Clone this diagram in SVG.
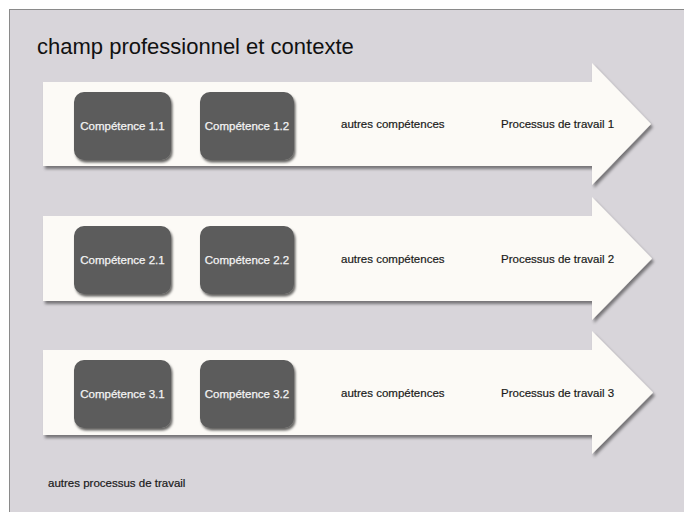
<svg xmlns="http://www.w3.org/2000/svg" width="684" height="512" viewBox="0 0 684 512">
<defs>
<filter id="sh" x="-10%" y="-20%" width="130%" height="150%">
<feDropShadow dx="2" dy="3" stdDeviation="1.8" flood-color="#000" flood-opacity="0.45"/>
</filter>
<filter id="shb" x="-10%" y="-20%" width="130%" height="150%">
<feDropShadow dx="1.5" dy="2.5" stdDeviation="1" flood-color="#000" flood-opacity="0.6"/>
</filter>
</defs>
<style>
.arrow{fill:#fcfaf6;filter:url(#sh)}
.box{fill:#5b5b5b;filter:url(#shb)}
.bt{font-family:"Liberation Sans",Arial,sans-serif;font-size:11.5px;fill:#f4f4f4;text-anchor:middle;stroke:#f4f4f4;stroke-width:0.25}
.t{font-family:"Liberation Sans",Arial,sans-serif;font-size:11.5px;fill:#1a1a1a;stroke:#1a1a1a;stroke-width:0.2}
.title{font-family:"Liberation Sans",Arial,sans-serif;font-size:22px;fill:#111}
</style>
<rect x="0" y="0" width="684" height="512" fill="#ffffff"/>
<rect x="9.5" y="9.5" width="690" height="520" fill="#d8d5da" stroke="#8a8a8a" stroke-width="1"/>
<text class="title" x="37" y="54">champ professionnel et contexte</text>

<g id="row1">
<path class="arrow" d="M43,82 H592 V63 L651,124 L592,185 V166 H43 Z"/>
<text class="t" x="341" y="128">autres compétences</text>
<text class="t" x="501" y="128">Processus de travail 1</text>
</g>
<g id="c11"><rect class="box" x="74" y="92" width="97" height="68" rx="10"/><text class="bt" x="122.5" y="130">Compétence 1.1</text></g>
<g id="c12"><rect class="box" x="200" y="92" width="94" height="68" rx="10"/><text class="bt" x="247" y="130">Compétence 1.2</text></g>

<g id="row2">
<path class="arrow" d="M43,216 H592 V197 L652,258.5 L592,320 V301 H43 Z"/>
<text class="t" x="341" y="262.5">autres compétences</text>
<text class="t" x="501" y="262.5">Processus de travail 2</text>
</g>
<g id="c21"><rect class="box" x="74" y="226" width="97" height="68" rx="10"/><text class="bt" x="122.5" y="264">Compétence 2.1</text></g>
<g id="c22"><rect class="box" x="200" y="226" width="94" height="68" rx="10"/><text class="bt" x="247" y="264">Compétence 2.2</text></g>

<g id="row3">
<path class="arrow" d="M43,350 H592 V331 L653,392.5 L592,454 V435 H43 Z"/>
<text class="t" x="341" y="396.5">autres compétences</text>
<text class="t" x="501" y="396.5">Processus de travail 3</text>
</g>
<g id="c31"><rect class="box" x="74" y="360" width="97" height="68" rx="10"/><text class="bt" x="122.5" y="398">Compétence 3.1</text></g>
<g id="c32"><rect class="box" x="200" y="360" width="94" height="68" rx="10"/><text class="bt" x="247" y="398">Compétence 3.2</text></g>

<g id="other"><text class="t" x="48" y="487">autres processus de travail</text></g>
<g id="connectors"/>
</svg>
